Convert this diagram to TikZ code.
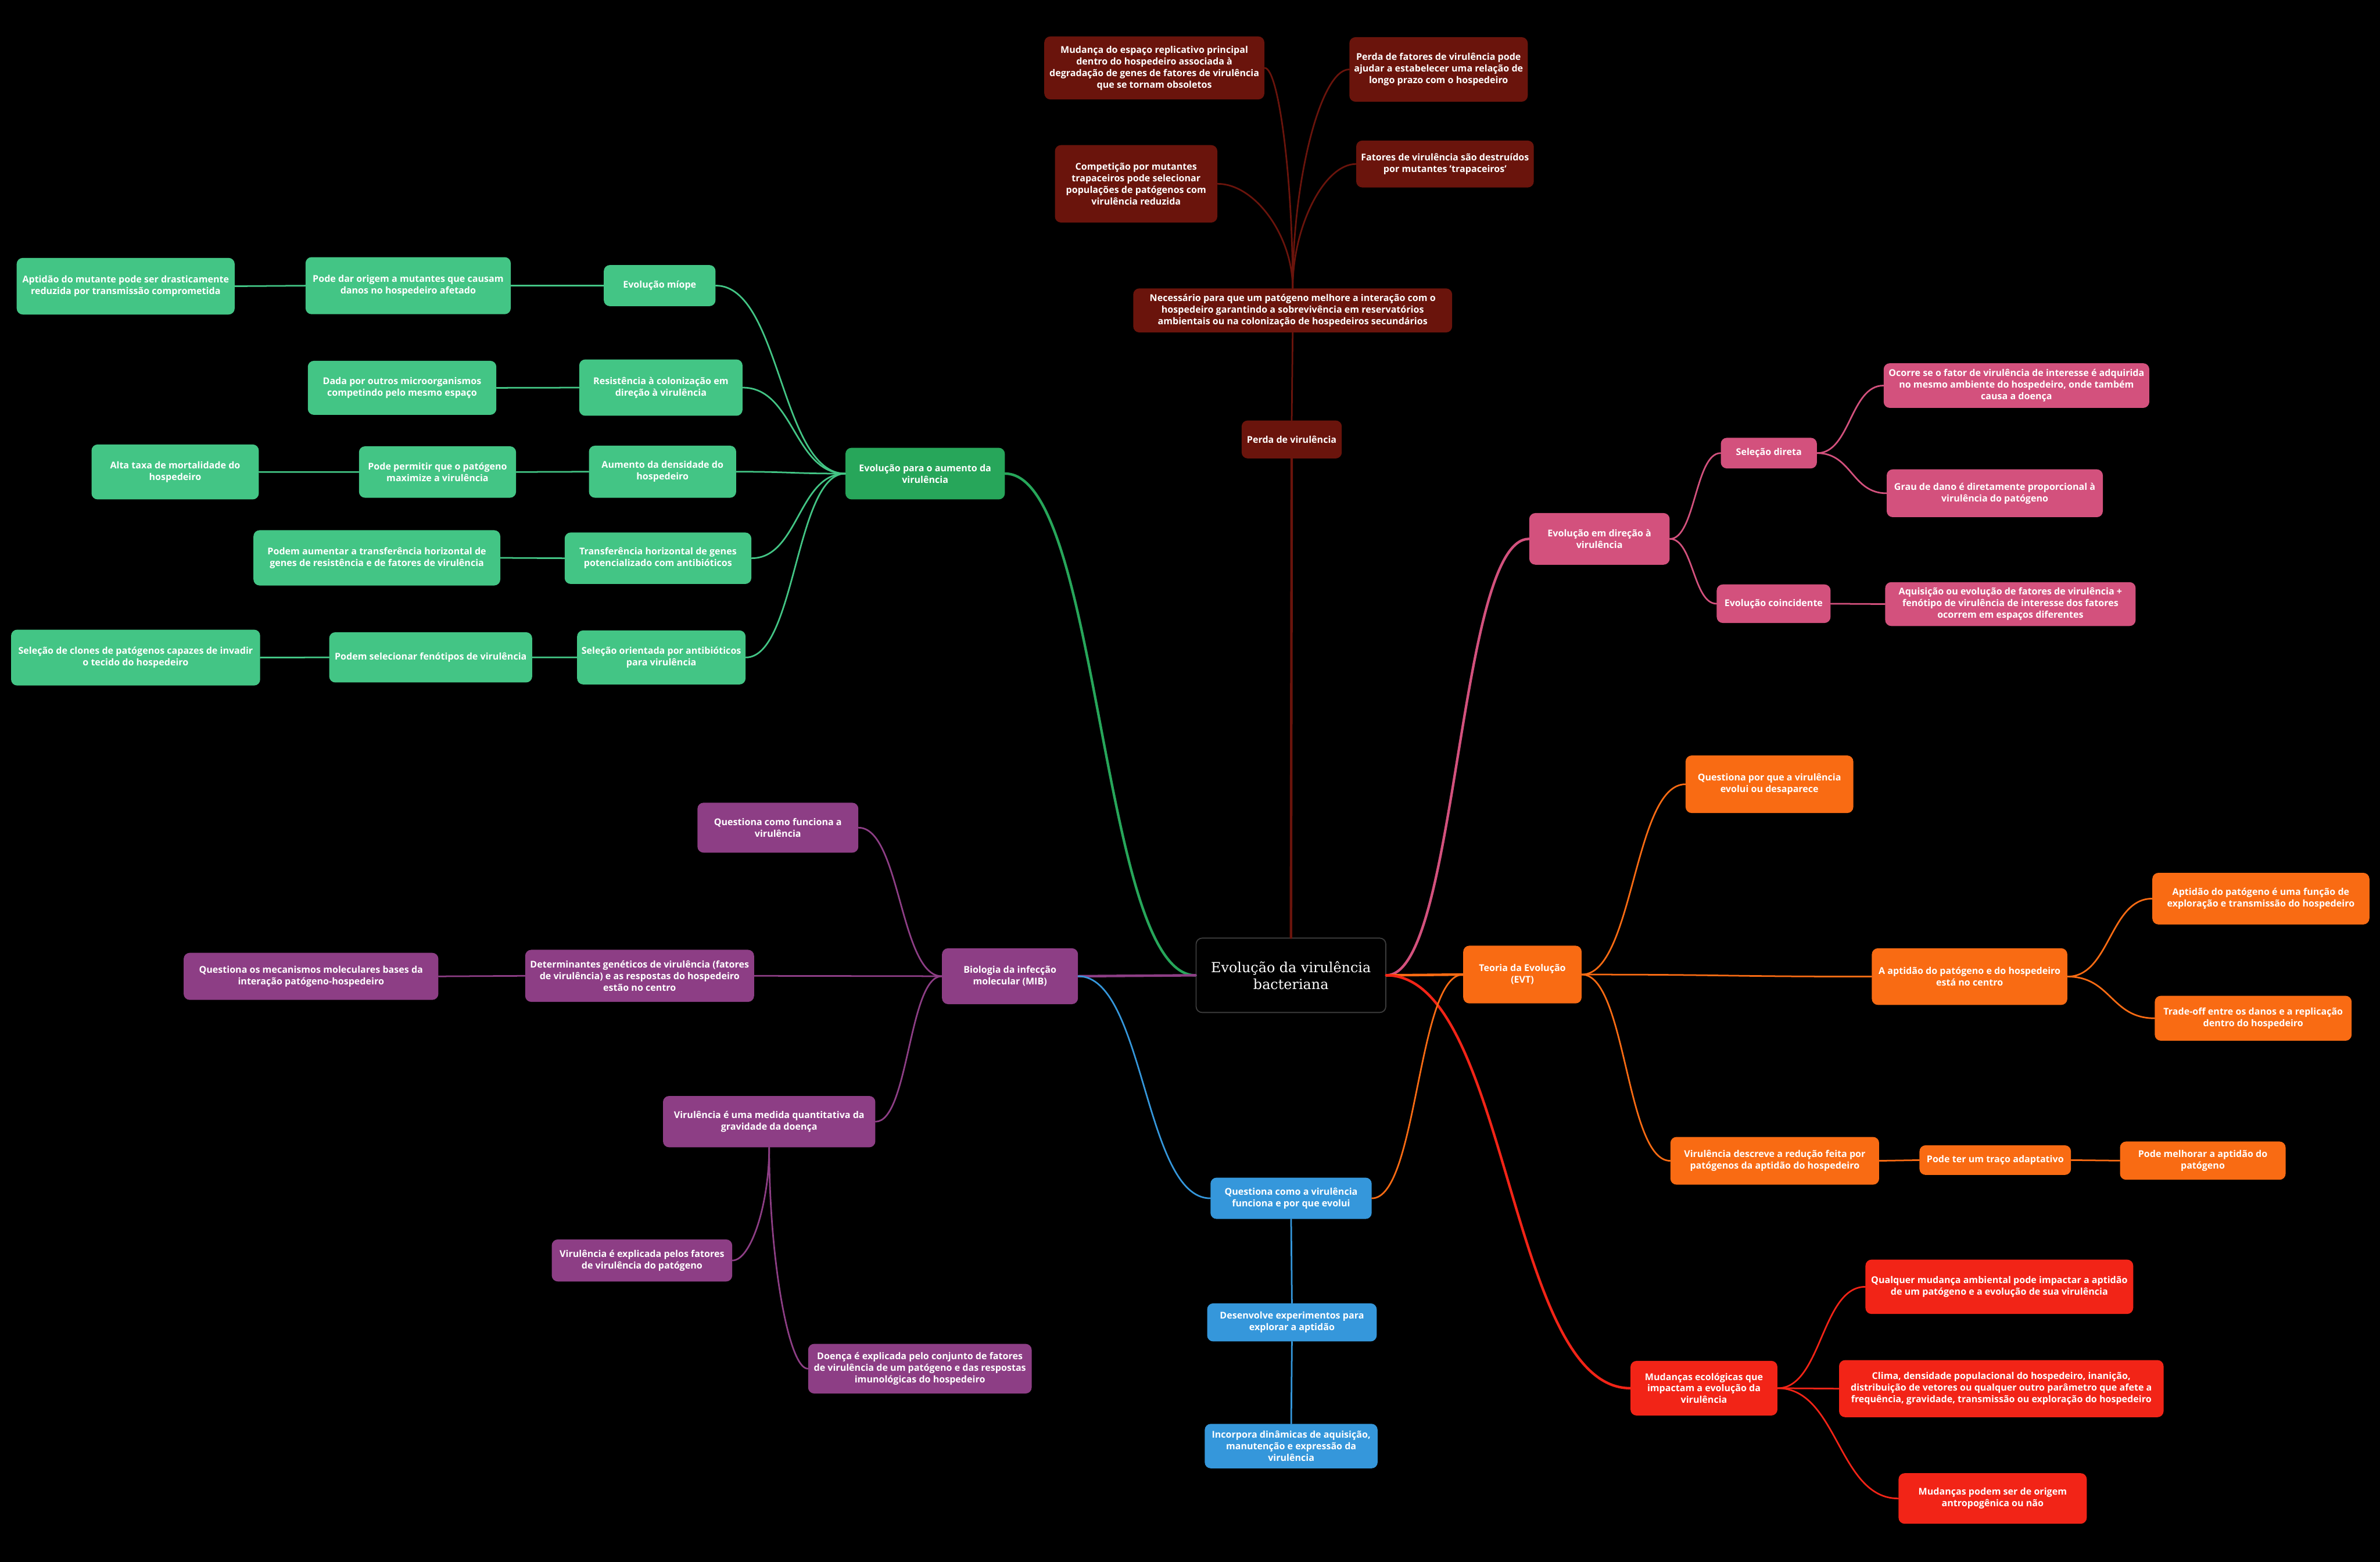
\documentclass[tikz,border=0pt]{standalone}
\usepackage{fontspec}
\setmainfont{Open Sans}
\newfontfamily\titlefont{DejaVu Serif}
\usetikzlibrary{calc}
\definecolor{cdred}{HTML}{6A140C}
\definecolor{cgreen}{HTML}{43C585}
\definecolor{cdgreen}{HTML}{27A65A}
\definecolor{cpurple}{HTML}{8D3E85}
\definecolor{cpink}{HTML}{D3517D}
\definecolor{corange}{HTML}{F96B13}
\definecolor{cred}{HTML}{F22417}
\definecolor{cblue}{HTML}{3597DB}
\definecolor{cborder}{HTML}{3C3C3C}
\tikzset{
  box/.style={rounded corners=0.16cm, inner xsep=1pt, inner ysep=1pt, align=center,
    text=white, font=\fontsize{7}{8.7}\selectfont\bfseries},
  titlebox/.style={rounded corners=0.16cm, draw=cborder, line width=0.8pt, fill=black,
    align=center, text=white, font=\titlefont\fontsize{10.4}{12.6}\selectfont},
  conn/.style={line width=1.2pt, line cap=round},
  mainconn/.style={line width=1.9pt, line cap=round}
}
\newcommand\nd[7]{\node[box,fill=#6,minimum width={(#4-#2)*0.04cm},minimum height={(#5-#3)*0.04cm}] (#1) at ({(#2+#4)/2},{(#3+#5)/2}) {#7};}
\newcommand\hs[3]{\draw[#1] let \p1=(#2), \p2=(#3) in (\p1) .. controls ({(\x1+\x2)/2},\y1) and ({(\x1+\x2)/2},\y2) .. (\p2);}
\newcommand\vs[3]{\draw[#1] let \p1=(#2), \p2=(#3) in (\p1) .. controls (\x1,{(\y1+\y2)/2}) and ({(\x1+\x2)/2},\y2) .. (\p2);}
\begin{document}
\begin{tikzpicture}[x=0.04cm,y=-0.04cm]
\fill[black] (0,0) rectangle (1568,1029);
\useasboundingbox (0,0) rectangle (1568,1029);

% centre
\node[titlebox,minimum width=125*0.04cm,minimum height=49*0.04cm] (c) at (850.5,642.5) {Evolução da virulência\\bacteriana};

% dark red (top)
\nd{perda}{818}{277}{884}{302}{cdred}{Perda de virulência}
\nd{nec}{746.6}{190}{956.7}{219}{cdred}{Necessário para que um patógeno melhore a interação com o\\hospedeiro garantindo a sobrevivência em reservatórios\\ambientais ou na colonização de hospedeiros secundários}
\nd{mud}{688}{24}{833}{65.5}{cdred}{Mudança do espaço replicativo principal\\dentro do hospedeiro associada à\\degradação de genes de fatores de virulência\\que se tornam obsoletos}
\nd{pfv}{889}{24.5}{1006.5}{67}{cdred}{Perda de fatores de virulência pode\\ajudar a estabelecer uma relação de\\longo prazo com o hospedeiro}
\nd{comp}{695}{95.6}{802}{146.6}{cdred}{Competição por mutantes\\trapaceiros pode selecionar\\populações de patógenos com\\virulência reduzida}
\nd{fvd}{893.5}{92.6}{1010.5}{123.5}{cdred}{Fatores de virulência são destruídos\\por mutantes 'trapaceiros'}

% green
\nd{gpar}{557}{295}{662}{329}{cdgreen}{Evolução para o aumento da\\virulência}
\nd{miope}{397.8}{174.6}{471.4}{201.7}{cgreen}{Evolução míope}
\nd{pdo}{201.3}{169.4}{336.5}{207}{cgreen}{Pode dar origem a mutantes que causam\\danos no hospedeiro afetado}
\nd{apm}{11}{169.9}{154.6}{207.2}{cgreen}{Aptidão do mutante pode ser drasticamente\\reduzida por transmissão comprometida}
\nd{res}{381.6}{236.8}{489.2}{273.9}{cgreen}{Resistência à colonização em\\direção à virulência}
\nd{dada}{202.8}{237.7}{327}{273.3}{cgreen}{Dada por outros microorganismos\\competindo pelo mesmo espaço}
\nd{aum}{388}{293.6}{485}{327.9}{cgreen}{Aumento da densidade do\\hospedeiro}
\nd{ppm}{236.5}{294}{340}{327.9}{cgreen}{Pode permitir que o patógeno\\maximize a virulência}
\nd{alta}{60.3}{292.8}{170.5}{329}{cgreen}{Alta taxa de mortalidade do\\hospedeiro}
\nd{thg}{372}{350.8}{495}{384.7}{cgreen}{Transferência horizontal de genes\\potencializado com antibióticos}
\nd{pat}{167}{349.3}{329.6}{385.7}{cgreen}{Podem aumentar a transferência horizontal de\\genes de resistência e de fatores de virulência}
\nd{soa}{380.2}{415.3}{491.2}{450.9}{cgreen}{Seleção orientada por antibióticos\\para virulência}
\nd{psf}{216.9}{416.5}{350.6}{449.6}{cgreen}{Podem selecionar fenótipos de virulência}
\nd{scp}{7.3}{414.8}{171.4}{451.6}{cgreen}{Seleção de clones de patógenos capazes de invadir\\o tecido do hospedeiro}

% pink
\nd{evd}{1007.5}{338}{1100}{372}{cpink}{Evolução em direção à\\virulência}
\nd{sd}{1133.7}{288.4}{1197}{308.6}{cpink}{Seleção direta}
\nd{oco}{1241}{239.3}{1416}{268.7}{cpink}{Ocorre se o fator de virulência de interesse é adquirida\\no mesmo ambiente do hospedeiro, onde também\\causa a doença}
\nd{grau}{1243}{309.2}{1385.4}{340.7}{cpink}{Grau de dano é diretamente proporcional à\\virulência do patógeno}
\nd{evc}{1131}{385}{1206}{410.4}{cpink}{Evolução coincidente}
\nd{aqu}{1242}{383.5}{1407}{412.4}{cpink}{Aquisição ou evolução de fatores de virulência +\\fenótipo de virulência de interesse dos fatores\\ocorrem em espaços diferentes}

% orange
\nd{evt}{964}{623}{1042}{661}{corange}{Teoria da Evolução\\(EVT)}
\nd{qpq}{1110.5}{497.7}{1221}{535.6}{corange}{Questiona por que a virulência\\evolui ou desaparece}
\nd{apc}{1233.2}{624.7}{1362}{662}{corange}{A aptidão do patógeno e do hospedeiro\\está no centro}
\nd{apf}{1418}{575}{1561}{609}{corange}{Aptidão do patógeno é uma função de\\exploração e transmissão do hospedeiro}
\nd{trade}{1419.6}{656}{1549.3}{685.6}{corange}{Trade-off entre os danos e a replicação\\dentro do hospedeiro}
\nd{vdr}{1100.5}{749}{1238}{780.4}{corange}{Virulência descreve a redução feita por\\patógenos da aptidão do hospedeiro}
\nd{pta}{1264.6}{754.5}{1364.4}{774}{corange}{Pode ter um traço adaptativo}
\nd{pma}{1396.7}{752}{1505.8}{777.2}{corange}{Pode melhorar a aptidão do\\patógeno}

% red
\nd{mec}{1074.2}{896.5}{1171}{932.5}{cred}{Mudanças ecológicas que\\impactam a evolução da\\virulência}
\nd{qma}{1229}{829.8}{1405.4}{865.6}{cred}{Qualquer mudança ambiental pode impactar a aptidão\\de um patógeno e a evolução de sua virulência}
\nd{clima}{1211.6}{896}{1425.4}{933.6}{cred}{Clima, densidade populacional do hospedeiro, inanição,\\distribuição de vetores ou qualquer outro parâmetro que afete a\\frequência, gravidade, transmissão ou exploração do hospedeiro}
\nd{mpo}{1250.8}{970.5}{1374.8}{1003.8}{cred}{Mudanças podem ser de origem\\antropogênica ou não}

% purple
\nd{bio}{620.6}{624.7}{710.2}{661.5}{cpurple}{Biologia da infecção\\molecular (MIB)}
\nd{qcf}{459.5}{528.8}{565.5}{561.7}{cpurple}{Questiona como funciona a\\virulência}
\nd{det}{346}{625.7}{496.8}{660}{cpurple}{Determinantes genéticos de virulência (fatores\\de virulência) e as respostas do hospedeiro\\estão no centro}
\nd{qmm}{121}{627.7}{288.8}{658.7}{cpurple}{Questiona os mecanismos moleculares bases da\\interação patógeno-hospedeiro}
\nd{vmq}{436.8}{722}{576.7}{755.8}{cpurple}{Virulência é uma medida quantitativa da\\gravidade da doença}
\nd{vef}{363.5}{816.5}{482.4}{844.2}{cpurple}{Virulência é explicada pelos fatores\\de virulência do patógeno}
\nd{dep}{532.4}{885.3}{679.7}{918}{cpurple}{Doença é explicada pelo conjunto de fatores\\de virulência de um patógeno e das respostas\\imunológicas do hospedeiro}

% blue
\nd{qcv}{797.5}{775.8}{903.7}{803}{cblue}{Questiona como a virulência\\funciona e por que evolui}
\nd{dex}{795.3}{858.6}{907}{883.7}{cblue}{Desenvolve experimentos para\\explorar a aptidão}
\nd{inc}{793.7}{938}{907.6}{967.3}{cblue}{Incorpora dinâmicas de aquisição,\\manutenção e expressão da\\virulência}

% ---- connectors ----
\draw[mainconn,cdred] (c.north) -- (perda.south);
\draw[conn,cdred] (perda.north) -- (nec.south);
\vs{conn,cdred}{nec.north}{mud.east}
\vs{conn,cdred}{nec.north}{pfv.west}
\vs{conn,cdred}{nec.north}{comp.east}
\vs{conn,cdred}{nec.north}{fvd.west}

\hs{mainconn,cdgreen}{c.west}{gpar.east}
\hs{mainconn,cpurple}{c.west}{bio.east}
\hs{mainconn,cpink}{c.east}{evd.west}
\hs{mainconn,corange}{c.east}{evt.west}
\hs{mainconn,cred}{c.east}{mec.west}

\hs{conn,cblue}{bio.east}{qcv.west}
\hs{conn,corange}{qcv.east}{evt.west}
\draw[conn,cblue] (qcv.south) -- (dex.north);
\draw[conn,cblue] (dex.south) -- (inc.north);

\hs{conn,cgreen}{gpar.west}{miope.east}
\hs{conn,cgreen}{gpar.west}{res.east}
\hs{conn,cgreen}{gpar.west}{aum.east}
\hs{conn,cgreen}{gpar.west}{thg.east}
\hs{conn,cgreen}{gpar.west}{soa.east}
\hs{conn,cgreen}{miope.west}{pdo.east}
\hs{conn,cgreen}{pdo.west}{apm.east}
\hs{conn,cgreen}{res.west}{dada.east}
\hs{conn,cgreen}{aum.west}{ppm.east}
\hs{conn,cgreen}{ppm.west}{alta.east}
\hs{conn,cgreen}{thg.west}{pat.east}
\hs{conn,cgreen}{soa.west}{psf.east}
\hs{conn,cgreen}{psf.west}{scp.east}

\hs{conn,cpurple}{bio.west}{qcf.east}
\hs{conn,cpurple}{bio.west}{det.east}
\hs{conn,cpurple}{bio.west}{vmq.east}
\hs{conn,cpurple}{det.west}{qmm.east}
\vs{conn,cpurple}{vmq.south}{vef.east}
\vs{conn,cpurple}{vmq.south}{dep.west}

\hs{conn,cpink}{evd.east}{sd.west}
\hs{conn,cpink}{evd.east}{evc.west}
\hs{conn,cpink}{sd.east}{oco.west}
\hs{conn,cpink}{sd.east}{grau.west}
\hs{conn,cpink}{evc.east}{aqu.west}

\hs{conn,corange}{evt.east}{qpq.west}
\hs{conn,corange}{evt.east}{apc.west}
\hs{conn,corange}{evt.east}{vdr.west}
\hs{conn,corange}{apc.east}{apf.west}
\hs{conn,corange}{apc.east}{trade.west}
\hs{conn,corange}{vdr.east}{pta.west}
\hs{conn,corange}{pta.east}{pma.west}

\hs{conn,cred}{mec.east}{qma.west}
\hs{conn,cred}{mec.east}{clima.west}
\hs{conn,cred}{mec.east}{mpo.west}
\end{tikzpicture}
\end{document}
